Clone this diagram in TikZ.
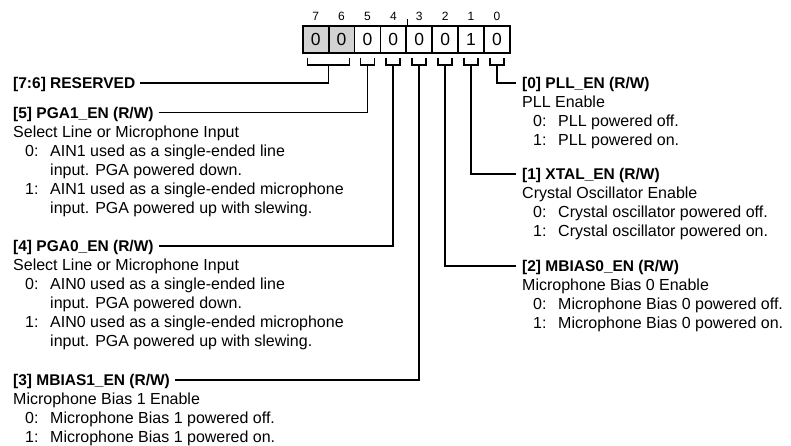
\documentclass[tikz,border=0pt]{standalone}
\usepackage{fontspec}
\setmainfont{Liberation Sans}
\newcommand\myitem[2]{\makebox[25pt][l]{#1:}#2}
\begin{document}
\begin{tikzpicture}[x=1pt,y=-1pt,
  cell/.style={draw, line width=1.8pt, minimum width=25.9pt, minimum height=27.3pt, inner sep=0pt, font=\fontsize{17.5}{17.5}\selectfont},
  resv/.style={cell, fill=gray!35},
  bitnum/.style={anchor=base, inner sep=0pt, font=\fontsize{12}{12}\selectfont},
  brk/.style={line width=1.8pt},
  conn/.style={line width=1.8pt},
  hd/.style={anchor=west, inner sep=0pt, text height=11pt, text depth=0pt, font=\fontsize{15.5}{19}\selectfont\bfseries},
  txt/.style={anchor=base west, inner sep=0pt, font=\fontsize{16}{19}\selectfont}]
\useasboundingbox (0,0) rectangle (791,445);

% register cells
\node[resv] (b7) at (315.65,39.65) {0};
\node[resv] (b6) at (341.55,39.65) {0};
\node[cell] (b5) at (367.45,39.65) {0};
\node[cell] (b4) at (393.35,39.65) {0};
\node[cell] (b3) at (419.25,39.65) {0};
\node[cell] (b2) at (445.15,39.65) {0};
\node[cell] (b1) at (471.05,39.65) {1};
\node[cell] (b0) at (496.95,39.65) {0};

% bit numbers
\node[bitnum] (n7) at (315.65,20) {7};
\node[bitnum] (n6) at (341.55,20) {6};
\node[bitnum] (n5) at (367.45,20) {5};
\node[bitnum] (n4) at (393.35,20) {4};
\node[bitnum] (n3) at (419.25,20) {3};
\node[bitnum] (n2) at (445.15,20) {2};
\node[bitnum] (n1) at (471.05,20) {1};
\node[bitnum] (n0) at (496.95,20) {0};
\draw[line width=1pt] (b4.north east) -- ++(0,-6);

% brackets
\draw[brk] (307.5,57.5) -- (307.5,65) -- (349.5,65) -- (349.5,57.5);
\coordinate (s76) at (328.5,65);
\foreach \c/\n in {367.45/5,393.35/4,419.25/3,445.15/2,471.05/1,496.95/0}{
  \draw[brk] (\c-7,57.5) -- (\c-7,65) -- (\c+7,65) -- (\c+7,57.5);
  \coordinate (s\n) at (\c,65);
}

% left headings
\node[hd] (hR) at (13,83) {[7:6] RESERVED};
\node[hd] (h5) at (13,112.5) {[5] PGA1\_EN (R/W)};
\node[hd] (h4) at (13,246) {[4] PGA0\_EN (R/W)};
\node[hd] (h3) at (13,380) {[3] MBIAS1\_EN (R/W)};

% right headings
\node[hd] (h0) at (522,83) {[0] PLL\_EN (R/W)};
\node[hd] (h1) at (522,174) {[1] XTAL\_EN (R/W)};
\node[hd] (h2) at (522,266) {[2] MBIAS0\_EN (R/W)};

% connectors
\draw[conn] ([xshift=5pt]hR.east) -| (s76);
\draw[conn] ([xshift=5pt]h5.east) -| (s5);
\draw[conn] ([xshift=5pt]h4.east) -| (s4);
\draw[conn] ([xshift=5pt]h3.east) -| (s3);
\draw[conn] ([xshift=-6pt]h0.west) -| (s0);
\draw[conn] ([xshift=-6pt]h1.west) -| (s1);
\draw[conn] ([xshift=-6pt]h2.west) -| (s2);

% PGA1 text
\node[txt] (t5a) at (13,137) {Select Line or Microphone Input};
\node[txt] (t5b) at (25,156) {\myitem{0}{AIN1 used as a single-ended line}};
\node[txt] (t5c) at (50,175) {input. PGA powered down.};
\node[txt] (t5d) at (25,194) {\myitem{1}{AIN1 used as a single-ended microphone}};
\node[txt] (t5e) at (50,213) {input. PGA powered up with slewing.};

% PGA0 text
\node[txt] (t4a) at (13,270.5) {Select Line or Microphone Input};
\node[txt] (t4b) at (25,289.5) {\myitem{0}{AIN0 used as a single-ended line}};
\node[txt] (t4c) at (50,308.5) {input. PGA powered down.};
\node[txt] (t4d) at (25,327.5) {\myitem{1}{AIN0 used as a single-ended microphone}};
\node[txt] (t4e) at (50,346.5) {input. PGA powered up with slewing.};

% MBIAS1 text
\node[txt] (t3a) at (13,404.5) {Microphone Bias 1 Enable};
\node[txt] (t3b) at (25,423.5) {\myitem{0}{Microphone Bias 1 powered off.}};
\node[txt] (t3c) at (25,442) {\myitem{1}{Microphone Bias 1 powered on.}};

% PLL text
\node[txt] (t0a) at (522,107.5) {PLL Enable};
\node[txt] (t0b) at (533,126.5) {\myitem{0}{PLL powered off.}};
\node[txt] (t0c) at (533,145.5) {\myitem{1}{PLL powered on.}};

% XTAL text
\node[txt] (t1a) at (522,198.5) {Crystal Oscillator Enable};
\node[txt] (t1b) at (533,217.5) {\myitem{0}{Crystal oscillator powered off.}};
\node[txt] (t1c) at (533,236.5) {\myitem{1}{Crystal oscillator powered on.}};

% MBIAS0 text
\node[txt] (t2a) at (522,290.5) {Microphone Bias 0 Enable};
\node[txt] (t2b) at (533,309.5) {\myitem{0}{Microphone Bias 0 powered off.}};
\node[txt] (t2c) at (533,328.5) {\myitem{1}{Microphone Bias 0 powered on.}};
\end{tikzpicture}
\end{document}
